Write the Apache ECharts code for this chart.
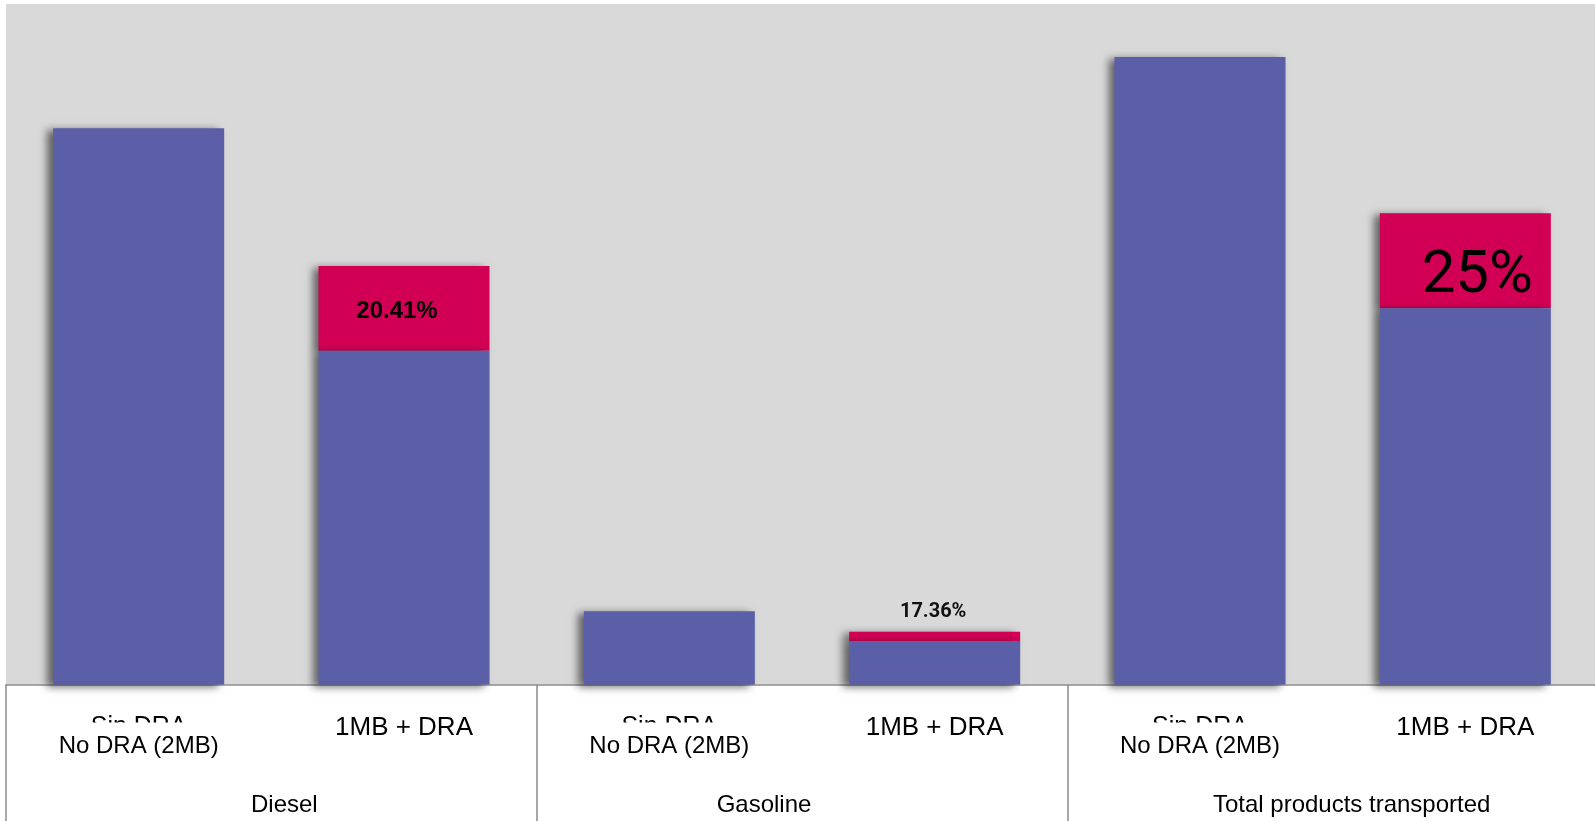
<!DOCTYPE html>
<html>
<head>
<meta charset="utf-8">
<script src="https://cdn.jsdelivr.net/npm/echarts@6/dist/echarts.min.js"></script>
<style>
  html, body { margin: 0; padding: 0; background: #ffffff; }
  #chart { width: 1595px; height: 821px; }
</style>
</head>
<body>
<div id="chart"></div>
<script>
// Scenario per bar, with the English note drawn over it
const scenarios = ['Sin DRA', '1MB + DRA', 'Sin DRA', '1MB + DRA', 'Sin DRA', '1MB + DRA'];
const scenarioNotes = ['No DRA (2MB)', '', 'No DRA (2MB)', '', 'No DRA (2MB)', ''];
// Product groups (two bars each)
const products = ['Diesel', 'Gasoline', 'Total products transported'];
// Volume moved without the extra gain, and the gain obtained with DRA
const baseVolume = [81.73, 49.05, 10.76, 6.39, 92.2, 55.28];
const draGain = [null, 12.45, null, 1.37, null, 13.96];
const gainLabels = ['', '20.41%', '', '17.36%', '', '25%'];

const BLUE = '#5A5FA8';
const RED = '#D20055';
const AXIS_GREY = '#8c8c8c';
const SANS = "'Liberation Sans', Arial, Helvetica, sans-serif";

const barShadow = {
  shadowColor: 'rgba(0,0,0,0.55)',
  shadowBlur: 8,
  shadowOffsetX: -6,
  shadowOffsetY: 2
};

// Per-bar styling of the gain labels
const gainLabelStyle = {
  1: { position: 'inside', offset: [-7, 3], fontSize: 24, fontWeight: 'bold', fontFamily: SANS, color: '#000' },
  3: { position: 'top', distance: 10, offset: [-1.5, 0], fontSize: 20, fontWeight: 'bold', fontFamily: 'Roboto, sans-serif', color: '#111' },
  5: { position: 'inside', offset: [12, 16], fontSize: 60, fontFamily: 'Roboto, Arial, sans-serif', color: '#000' }
};

// Horizontal nudges of the product names
const productShift = [13, -38, 19];
const productRich = {};
productShift.forEach((dx, i) => {
  productRich['g' + i] = {
    fontSize: 24,
    fontFamily: SANS,
    color: '#000',
    padding: dx >= 0 ? [0, 0, 0, 2 * dx] : [0, -2 * dx, 0, 0]
  };
});

const chart = echarts.init(document.getElementById('chart'), null, { renderer: 'canvas' });

chart.setOption({
  animation: false,
  backgroundColor: '#ffffff',
  grid: {
    left: 6,
    top: 4,
    width: 1592,
    bottom: 136.5,
    outerBoundsMode: 'none',
    containLabel: false,
    show: true,
    backgroundColor: '#D9D9D9',
    borderWidth: 0
  },
  xAxis: [
    {
      type: 'category',
      data: scenarios,
      position: 'bottom',
      axisLine: { show: true, lineStyle: { color: AXIS_GREY, width: 1.5 } },
      axisTick: { show: false },
      axisLabel: {
        interval: 0,
        margin: 30,
        formatter: (v) => v === 'Sin DRA' ? '{s|' + v + '}' : '{m|' + v + '}',
        rich: {
          s: { fontSize: 25, fontFamily: SANS, color: '#000' },
          m: { fontSize: 26, fontFamily: SANS, color: '#000' }
        }
      },
      z: 2
    },
    {
      type: 'category',
      data: scenarios,
      position: 'bottom',
      axisLine: { show: false },
      axisTick: { show: false },
      axisLabel: {
        interval: 0,
        margin: 38,
        formatter: (v, i) => scenarioNotes[i] ? '{n|' + scenarioNotes[i] + '}' : '',
        rich: {
          n: {
            fontSize: 24,
            fontFamily: SANS,
            color: '#000',
            backgroundColor: '#ffffff',
            padding: [12, 6, 2, 6]
          }
        }
      },
      z: 5
    },
    {
      type: 'category',
      data: products,
      position: 'bottom',
      axisLine: { show: false },
      axisTick: { show: true, interval: 0, length: 140, lineStyle: { color: AXIS_GREY, width: 1.5 } },
      axisLabel: {
        interval: 0,
        margin: 109,
        formatter: (v, i) => '{g' + i + '|' + v + '}',
        rich: productRich
      },
      z: 2
    }
  ],
  yAxis: {
    type: 'value',
    min: 0,
    max: 100,
    show: false,
    splitLine: { show: false }
  },
  series: [
    {
      name: 'Base',
      type: 'bar',
      stack: 'volume',
      barWidth: 171,
      data: baseVolume,
      itemStyle: Object.assign({ color: BLUE }, barShadow),
      z: 3
    },
    {
      name: 'DRA gain',
      type: 'bar',
      stack: 'volume',
      barWidth: 171,
      data: draGain.map((v, i) => ({
        value: v,
        label: Object.assign({
          show: !!gainLabels[i],
          formatter: () => gainLabels[i]
        }, gainLabelStyle[i] || {})
      })),
      itemStyle: Object.assign({ color: RED }, barShadow),
      z: 2
    }
  ]
});
</script>
</body>
</html>
